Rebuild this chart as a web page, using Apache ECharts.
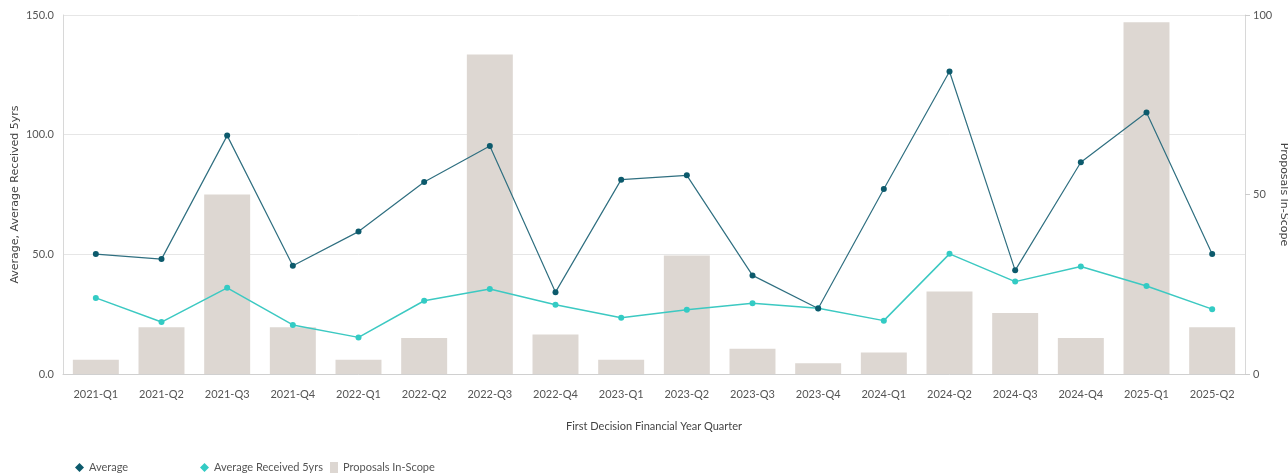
<!DOCTYPE html>
<html>
<head>
<meta charset="utf-8">
<script src="https://cdn.jsdelivr.net/npm/echarts@6/dist/echarts.min.js"></script>
<style>
html,body{margin:0;padding:0;background:#fff;}
#c{width:1288px;height:475px;}
</style>
</head>
<body>
<div id="c"></div>
<script>
const categories = ['2021-Q1','2021-Q2','2021-Q3','2021-Q4','2022-Q1','2022-Q2','2022-Q3','2022-Q4','2023-Q1','2023-Q2','2023-Q3','2023-Q4','2024-Q1','2024-Q2','2024-Q3','2024-Q4','2025-Q1','2025-Q2'];
const averageValues = [50.1, 48.0, 99.6, 45.2, 59.5, 80.2, 95.3, 34.2, 81.2, 83.0, 41.2, 27.4, 77.3, 126.4, 43.3, 88.5, 109.3, 50.1];
const averageReceived5yrs = [31.8, 21.7, 36.0, 20.5, 15.3, 30.6, 35.5, 28.9, 23.5, 26.8, 29.6, 27.5, 22.3, 50.2, 38.6, 44.9, 36.8, 27.1];
const proposalsInScope = [4, 13, 50, 13, 4, 10, 89, 11, 4, 33, 7, 3, 6, 23, 17, 10, 98, 13];
const leftTicks = {min: 0, max: 150, interval: 50};
const rightTicks = {min: 0, max: 100, interval: 50};

const narrow = 'Lato, "Open Sans", sans-serif';
const chart = echarts.init(document.getElementById('c'), null, {renderer: 'canvas'});
chart.setOption({
  animation: false,
  backgroundColor: '#ffffff',
  grid: {left: 63, right: 43, top: 15, bottom: 101, containLabel: false, outerBoundsMode: 'none'},
  legend: [
    {data: [{name: 'Average', icon: 'diamond'}], left: 70, top: 457, itemWidth: 9, itemHeight: 9, itemGap: 4,
     textStyle: {fontFamily: narrow, fontSize: 11, color: '#555'}},
    {data: [{name: 'Average Received 5yrs', icon: 'diamond'}], left: 195, top: 457, itemWidth: 9, itemHeight: 9,
     textStyle: {fontFamily: narrow, fontSize: 11, color: '#555'}},
    {data: [{name: 'Proposals In-Scope', icon: 'rect'}], left: 325, top: 457, itemWidth: 8, itemHeight: 11,
     textStyle: {fontFamily: narrow, fontSize: 11, color: '#555'}}
  ],
  xAxis: {
    type: 'category',
    data: categories,
    name: 'First Decision Financial Year Quarter',
    nameLocation: 'middle',
    nameGap: 47,
    nameMoveOverlap: false,
    nameTextStyle: {fontFamily: narrow, fontSize: 11, color: '#444'},
    axisLine: {lineStyle: {color: '#d0d0d0'}},
    axisTick: {show: false},
    axisLabel: {fontFamily: narrow, fontSize: 11, color: '#555', margin: 15},
    splitLine: {show: false}
  },
  yAxis: [
    {
      type: 'value',
      min: leftTicks.min, max: leftTicks.max, interval: leftTicks.interval,
      name: 'Average, Average Received 5yrs',
      nameLocation: 'middle',
      nameGap: 42,
      nameMoveOverlap: false,
      nameRotate: 90,
      nameTextStyle: {fontFamily: '"DejaVu Sans", sans-serif', fontSize: 11, color: '#444'},
      axisLine: {show: true, lineStyle: {color: '#d8d8d8'}},
      axisTick: {show: false},
      axisLabel: {fontFamily: narrow, fontSize: 11, color: '#555', margin: 9,
                  formatter: v => v.toFixed(1)},
      splitLine: {show: true, lineStyle: {color: '#e6e6e6', width: 1}}
    },
    {
      type: 'value',
      min: rightTicks.min, max: rightTicks.max, interval: rightTicks.interval,
      name: 'Proposals In-Scope',
      nameLocation: 'middle',
      nameGap: 33,
      nameMoveOverlap: false,
      nameRotate: -90,
      nameTextStyle: {fontFamily: '"DejaVu Sans", sans-serif', fontSize: 11, color: '#444'},
      axisLine: {show: true, lineStyle: {color: '#d8d8d8'}},
      axisTick: {show: true, length: 5, lineStyle: {color: '#cccccc'}},
      axisLabel: {fontFamily: narrow, fontSize: 11, color: '#555', margin: 8},
      splitLine: {show: false}
    }
  ],
  series: [
    {
      name: 'Proposals In-Scope',
      type: 'bar',
      yAxisIndex: 1,
      data: proposalsInScope,
      barWidth: '70%',
      itemStyle: {color: '#ddd7d2'},
      z: 1
    },
    {
      name: 'Average',
      type: 'line',
      yAxisIndex: 0,
      data: averageValues,
      symbol: 'circle',
      symbolSize: 6,
      lineStyle: {color: '#2f6f80', width: 1.2},
      itemStyle: {color: '#0c5a6c'},
      z: 3
    },
    {
      name: 'Average Received 5yrs',
      type: 'line',
      yAxisIndex: 0,
      data: averageReceived5yrs,
      symbol: 'circle',
      symbolSize: 6,
      lineStyle: {color: '#3cc9c2', width: 1.5},
      itemStyle: {color: '#33cbc4'},
      z: 2
    }
  ]
});
</script>
</body>
</html>
